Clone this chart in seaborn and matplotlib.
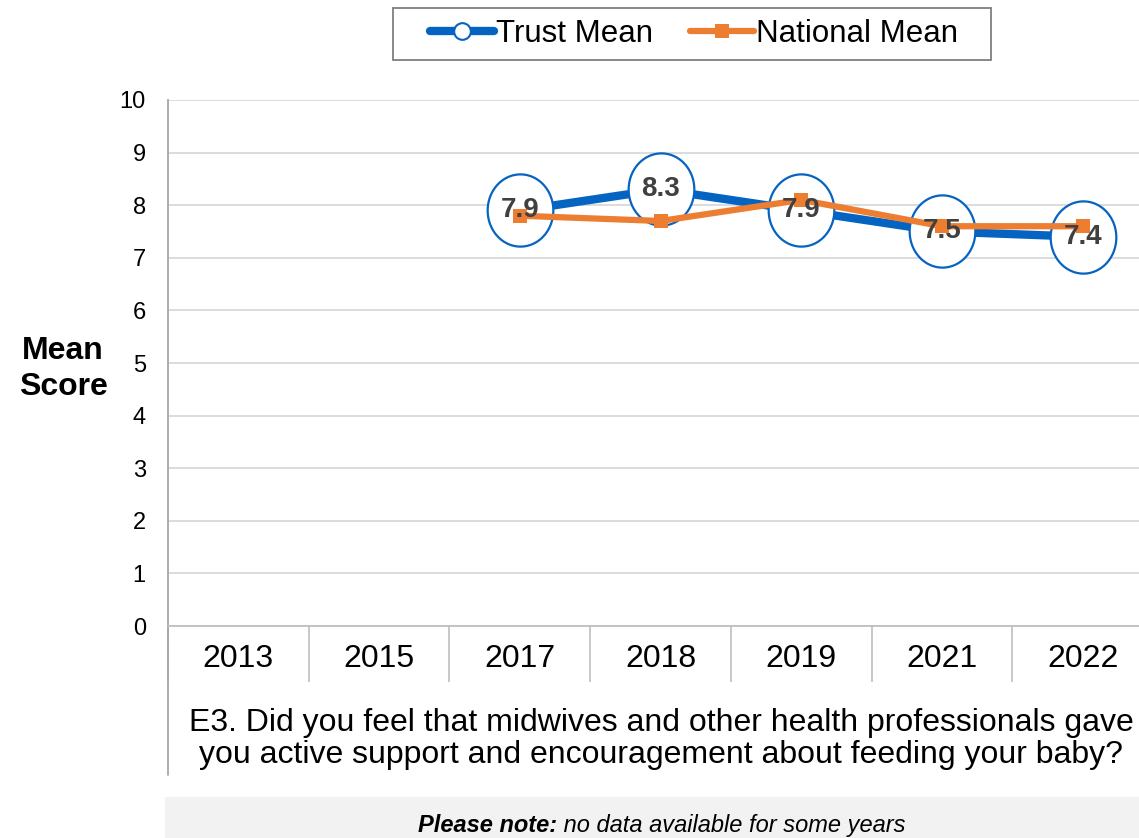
import numpy as np
import pandas as pd
import matplotlib
matplotlib.use("Agg")
import matplotlib.pyplot as plt
from matplotlib.lines import Line2D
from matplotlib.patches import Rectangle
from matplotlib.path import Path
import seaborn as sns

# ---- data ----
years = ["2013", "2015", "2017", "2018", "2019", "2021", "2022"]
trust_mean = [np.nan, np.nan, 7.9, 8.3, 7.9, 7.5, 7.4]
national_mean = [np.nan, np.nan, 7.8, 7.7, 8.1, 7.6, 7.6]
series_names = ["Trust Mean", "National Mean"]
question = ("E3. Did you feel that midwives and other health professionals gave\n"
            "you active support and encouragement about feeding your baby?")

sns.set_theme(style="white")
plt.rcParams["font.family"] = ["Liberation Sans", "DejaVu Sans"]
plt.rcParams["text.color"] = "black"
plt.rcParams["axes.labelcolor"] = "black"

BLUE = "#0563C1"
ORANGE = "#ED7D31"
GRID = "#D9D9D9"
SPINE = "#A6A6A6"

df = pd.DataFrame({"pos": np.arange(len(years)), "year": years,
                   "trust": trust_mean, "national": national_mean})

W, H = 1139, 838
fig = plt.figure(figsize=(W / 100, H / 100), dpi=100)
ax = fig.add_axes([168 / W, 212 / H, 985 / W, 526 / H])

# elliptical marker (slightly taller than wide)
t = np.linspace(0, 2 * np.pi, 100)
ell = Path(np.column_stack([np.cos(t), 1.1 * np.sin(t)]), closed=True)

sns.lineplot(data=df, x="pos", y="trust", ax=ax, color=BLUE, linewidth=6,
             marker=ell, markersize=52, markerfacecolor="white",
             markeredgecolor=BLUE, markeredgewidth=1.6, zorder=3)
sns.lineplot(data=df, x="pos", y="national", ax=ax, color=ORANGE, linewidth=4.5,
             marker="s", markersize=10, markeredgewidth=0, zorder=4)

for i, v in enumerate(trust_mean):
    if not np.isnan(v):
        ax.text(i, v, f"{v:.1f}", ha="center", va="center", fontsize=20,
                fontweight="bold", color="#404040", zorder=6)

ax.set_xlim(-0.5, len(years) - 0.5)
ax.set_ylim(0, 10)
ax.set_yticks(range(0, 11))
ax.set_xticks(range(len(years)))
ax.set_xticklabels(years)
ax.set_xticks(np.arange(-0.5, len(years), 1), minor=True)
ax.tick_params(axis="x", which="major", length=0, pad=13, labelsize=23,
               labelcolor="black")
ax.tick_params(axis="x", which="minor", length=40, width=1.2, color="#BFBFBF",
               direction="out", bottom=True)
ax.tick_params(axis="y", length=0, pad=16, labelsize=17, labelcolor="black")
ax.set_xlabel("")
ax.set_ylabel("")
ax.grid(axis="y", color=GRID, linewidth=1.3)
ax.grid(axis="x", visible=False)
for s in ["top", "right"]:
    ax.spines[s].set_visible(False)
ax.spines["left"].set_color(SPINE)
ax.spines["left"].set_linewidth(1.3)
ax.spines["bottom"].set_color("#BFBFBF")
ax.spines["bottom"].set_linewidth(1.3)
ax.axvline(-0.5, ymin=-(775 - 626) / 526, ymax=0, color=SPINE, linewidth=1.3,
           clip_on=False)

# y label
fig.text(63 / W, 1 - 369 / H, "Mean\nScore", ha="center", va="center",
         fontsize=23, fontweight="bold", linespacing=1.25)

# question
fig.text(661 / W, 1 - 739 / H, question, ha="center", va="center",
         fontsize=23, linespacing=1.05, multialignment="center")

# legend (frame drawn separately for wide side padding)
handles = [
    Line2D([0], [0], color=BLUE, linewidth=6, marker="o", markersize=12,
           markerfacecolor="white", markeredgecolor=BLUE, markeredgewidth=1.5),
    Line2D([0], [0], color=ORANGE, linewidth=4.5, marker="s", markersize=10,
           markeredgewidth=0),
]
fig.legend(handles, series_names, loc="center",
           bbox_to_anchor=(694 / W, 1 - 34 / H), ncol=2, fontsize=22.5,
           frameon=False, handlelength=2.05, handletextpad=0.05,
           columnspacing=1.2, borderpad=0.2)
fig.patches.append(Rectangle((393 / W, 1 - 60 / H), (991 - 393) / W, 52 / H,
                             transform=fig.transFigure, facecolor="none",
                             edgecolor="#7F7F7F", linewidth=1.3))

# note box
fig.patches.append(Rectangle((165 / W, 0), 1 - 165 / W, 41 / H,
                             transform=fig.transFigure, facecolor="#F2F2F2",
                             edgecolor="none", zorder=0))
t1 = fig.text(0, 1 - 825 / H, "Please note:", ha="left", va="center",
              fontsize=17, fontweight="bold", fontstyle="italic")
t2 = fig.text(0, 1 - 825 / H, " no data available for some years", ha="left",
              va="center", fontsize=17, fontstyle="italic")
fig.canvas.draw()
r = fig.canvas.get_renderer()
w1 = t1.get_window_extent(r).width
w2 = t2.get_window_extent(r).width
x0 = 662 - (w1 + w2) / 2
t1.set_x(x0 / W)
t2.set_x((x0 + w1) / W)

fig.savefig("out.png", dpi=100)
